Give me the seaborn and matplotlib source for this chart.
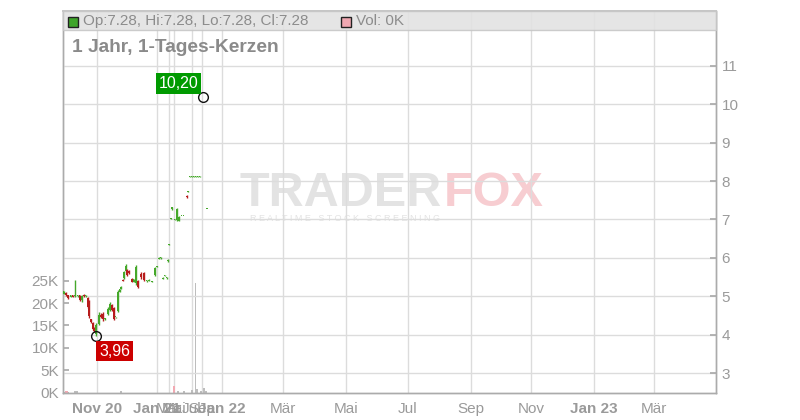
import numpy as np
import pandas as pd
import seaborn as sns
import matplotlib.pyplot as plt
from matplotlib.patches import Rectangle

# chart slots: roughly one slot per calendar day, the 2021 stretch is squeezed
slot = [0.5, 3, 5, 7.5, 9.5, 12, 14.5, 16.5, 18.5, 20.5, 22.5, 24.5, 26, 28, 29.5, 31,
        33, 35.5, 37.5, 40, 42, 44.5, 46.5, 48.5, 51, 52.5, 54.5, 56.5, 58, 59.5, 61,
        62.5, 64, 66, 68.5, 70.5, 73, 75, 77.5, 80.5, 83.5, 85.5, 89, 92, 94, 95.5,
        97.5, 100, 101.5, 103.5, 105, 106, 108, 109, 111.5, 114, 116, 118.5, 120.5,
        124, 125, 126.5, 128.5, 130.5, 132.5, 134.5, 136.5, 140, 144]
opens = [5.06, 5.09, 5.03, 4.98, 5.02, 5.00, 5.01, 5.02, 4.90, 5.04, 5.00, 4.96, 4.85, 4.40, 4.30, 4.17,
         4.02, 4.28, 4.52, 4.55, 4.40, 4.55, 4.65, 4.78, 4.69, 4.45, 4.62, 5.12, 5.20, 5.43, 5.48,
         5.66, 5.68, 5.66, 5.46, 5.38, 5.35, 5.40, 5.58, 5.60, 5.40, 5.40, 5.38, 5.56, 5.77, 5.98,
         5.99, 5.46, 5.54, 5.47, 5.92, 6.34, 7.02, 7.27, 6.99, 6.99, 6.96, 7.09, 7.09,
         7.62, 7.72, 8.12, 8.12, 8.12, 8.12, 8.12, 8.12, 10.18, 7.28]
highs = [5.14, 5.10, 5.04, 5.03, 5.03, 5.42, 5.03, 5.03, 5.03, 5.06, 5.02, 4.98, 4.90, 4.42, 4.33, 4.20,
         4.30, 4.59, 4.56, 4.58, 4.44, 4.72, 4.85, 4.80, 4.72, 4.47, 5.16, 5.19, 5.27, 5.44, 5.66,
         5.84, 5.72, 5.68, 5.48, 5.46, 5.81, 5.42, 5.62, 5.63, 5.43, 5.44, 5.41, 5.76, 5.80, 6.01,
         6.01, 5.49, 5.56, 5.49, 5.96, 6.36, 7.05, 7.33, 7.00, 7.30, 7.08, 7.10, 7.10,
         7.63, 7.74, 8.14, 8.14, 8.14, 8.14, 8.14, 8.14, 10.20, 7.28]
lows = [5.05, 5.01, 4.93, 4.97, 4.97, 4.99, 4.99, 4.88, 4.86, 4.98, 4.98, 4.69, 4.43, 4.30, 4.12, 4.07,
        3.96, 4.25, 4.44, 4.36, 4.38, 4.52, 4.62, 4.62, 4.38, 4.43, 4.58, 5.10, 5.18, 5.40, 5.46,
        5.64, 5.54, 5.58, 5.36, 5.36, 5.30, 5.22, 5.46, 5.40, 5.38, 5.39, 5.36, 5.54, 5.76, 5.97,
        5.98, 5.45, 5.52, 5.46, 5.90, 6.33, 7.01, 7.26, 6.98, 6.97, 6.95, 7.08, 7.08,
        7.57, 7.71, 8.12, 8.12, 8.12, 8.12, 8.12, 8.12, 10.18, 7.28]
closes = [5.13, 5.03, 4.96, 5.02, 4.98, 5.03, 5.02, 4.90, 5.01, 5.00, 5.01, 4.72, 4.48, 4.33, 4.15, 4.09,
          4.25, 4.52, 4.46, 4.40, 4.42, 4.68, 4.80, 4.64, 4.40, 4.46, 5.12, 5.18, 5.25, 5.41, 5.63,
          5.80, 5.56, 5.60, 5.38, 5.44, 5.76, 5.25, 5.50, 5.42, 5.42, 5.43, 5.40, 5.74, 5.79, 6.00,
          6.00, 5.48, 5.55, 5.48, 5.94, 6.35, 7.03, 7.32, 7.00, 7.28, 7.07, 7.10, 7.10,
          7.58, 7.73, 8.13, 8.13, 8.13, 8.13, 8.13, 8.13, 10.19, 7.28]

vol_slot = [3, 4.5, 12, 14, 58, 111, 115, 121, 129, 132.5, 134, 138, 141, 143]
vol_k = [0.3, 0.3, 0.3, 0.3, 0.4, 1.4, 0.3, 0.3, 0.6, 24.5, 0.8, 0.4, 1.0, 0.3]
vol_kind = ["down", "down", "flat", "flat", "flat", "down", "flat", "flat", "flat", "flat",
            "flat", "flat", "flat", "flat"]

tick_slot = [34, 94, 106, 111, 129, 139, 159, 220, 283, 345, 408, 468, 531, 591]
tick_label = ["Nov 20", "Jan 21", "Mär", "Mai", "Jul", "Sep", "Jan 22", "Mär", "Mai", "Jul",
              "Sep", "Nov", "Jan 23", "Mär"]
bold_labels = ["Nov 20", "Jan 21", "Jan 22", "Jan 23"]
price_ticks = [3, 4, 5, 6, 7, 8, 9, 10, 11]
vol_ticks = [0, 5, 10, 15, 20, 25]
vol_tick_label = ["0K", "5K", "10K", "15K", "20K", "25K"]

up_color = "#45a82a"
down_color = "#b71c1c"
vol_colors = {"down": "#f2a9b2", "up": "#a8d99a", "flat": "#bdbdbd"}
grid_color = "#dcdcdc"
axis_color = "#ababab"
text_color = "#9a9a9a"

sns.set_theme(style="white")
plt.rcParams["font.family"] = ["Liberation Sans", "DejaVu Sans"]

df = pd.DataFrame({"slot": slot, "open": opens, "high": highs, "low": lows, "close": closes})
df["color"] = np.where(df["close"] >= df["open"], up_color, down_color)

fig = plt.figure(figsize=(8, 4.2), dpi=100)

# watermark sits under the (transparent) plot area
fig.text(240 / 800, 1 - 194 / 420, "TRADER", fontsize=35, fontweight="bold", color="#e3e3e3",
         va="center", zorder=-2)
fig.text(444 / 800, 1 - 194 / 420, "FOX", fontsize=35, fontweight="bold", color="#f7cdd1",
         va="center", zorder=-2)
fig.text(250 / 800, 1 - 218 / 420, " ".join("REALTIME STOCK SCREENING"), fontsize=6.5,
         color="#e3e3e3", va="center", zorder=-2)

axv = fig.add_axes([63 / 800, 1 - 392.5 / 420, 653 / 800, 381.5 / 420])
axv.patch.set_facecolor("none")
ax = axv.twinx()

# volume (left axis)
axv.bar(vol_slot, vol_k, width=1.3, color=[vol_colors[k] for k in vol_kind], lw=0, zorder=2)
axv.set_xlim(0, 653)
axv.set_ylim(0, 85.3)
axv.set_yticks(vol_ticks)
axv.set_yticklabels(vol_tick_label)
axv.set_xticks(tick_slot)
axv.set_xticklabels(tick_label)
for lbl in axv.get_xticklabels():
    if lbl.get_text() in bold_labels:
        lbl.set_fontweight("bold")
        lbl.set_color("#8a8a8a")
axv.xaxis.grid(True, color=grid_color, lw=1, zorder=0)
axv.yaxis.grid(False)
axv.tick_params(axis="y", direction="in", length=4, color=axis_color, labelcolor=text_color,
                labelsize=11, pad=3)
axv.tick_params(axis="x", direction="out", length=3, color=axis_color, labelcolor=text_color,
                labelsize=11, pad=4)

# candles (right axis)
ax.vlines(df["slot"], df["low"], df["high"], colors=df["color"], lw=1, zorder=3)
body = np.maximum((df["close"] - df["open"]).abs(), 0.025)
ax.bar(df["slot"], body, bottom=np.minimum(df["open"], df["close"]), width=1.6,
       color=df["color"], lw=0, zorder=3)
ax.set_ylim(2.492, 12.433)
ax.set_yticks(price_ticks)
ax.yaxis.grid(True, color=grid_color, lw=1, zorder=0)
ax.tick_params(axis="y", direction="in", length=4, color=axis_color, labelcolor=text_color,
               labelsize=11, pad=4)

for a in (ax, axv):
    for side in ("left", "right", "bottom"):
        a.spines[side].set_color(axis_color)
        a.spines[side].set_linewidth(1)
    a.spines["top"].set_color("#c6c6c6")

# high / low markers
hi = int(np.argmax(df["high"]))
lo = int(np.argmin(df["low"]))
ax.plot(df["slot"][hi], df["high"][hi], "o", ms=7, mfc="none", mec="#111111", mew=1, zorder=5)
ax.plot(df["slot"][lo], df["low"][lo], "o", ms=7, mfc="none", mec="#111111", mew=1, zorder=5)
ax.annotate(f"{df['high'][hi]:.2f}".replace(".", ","), (df["slot"][hi], df["high"][hi]),
            xytext=(-5, 13), textcoords="offset pixels", ha="right", va="center",
            color="white", fontsize=11.5, zorder=6,
            bbox=dict(boxstyle="square,pad=0.17", fc="#009a00", ec="none"))
ax.annotate(f"{df['low'][lo]:.2f}".replace(".", ","), (df["slot"][lo], df["low"][lo]),
            xytext=(3, -15), textcoords="offset pixels", ha="left", va="center",
            color="white", fontsize=11.5, zorder=6,
            bbox=dict(boxstyle="square,pad=0.17", fc="#cc0000", ec="none"))

# header band with last candle values
ax.add_patch(Rectangle((0, 0.950), 1, 0.05, transform=ax.transAxes, fc="#e2e2e2",
                       ec="#c6c6c6", lw=1, alpha=0.88, zorder=7, clip_on=False))
last = df.iloc[-1]
fig.add_artist(Rectangle((68 / 800, 1 - 27 / 420), 10 / 800, 10 / 420, transform=fig.transFigure,
                         fc="#3fa52a", ec="#222222", lw=1, zorder=8))
fig.text(83 / 800, 1 - 21 / 420,
         f"Op:{last['open']:.2f}, Hi:{last['high']:.2f}, Lo:{last['low']:.2f}, Cl:{last['close']:.2f}",
         fontsize=11, color="#8c8c8c", va="center", zorder=9)
fig.add_artist(Rectangle((341 / 800, 1 - 27 / 420), 10 / 800, 10 / 420, transform=fig.transFigure,
                         fc="#f0a8b2", ec="#222222", lw=1, zorder=8))
fig.text(356 / 800, 1 - 21 / 420, "Vol: 0K", fontsize=11, color="#8c8c8c", va="center", zorder=9)
fig.text(72 / 800, 1 - 47 / 420, "1 Jahr, 1-Tages-Kerzen", fontsize=13.8, fontweight="bold",
         color="#8a8a8a", va="center")

fig.savefig("out.png", dpi=100, facecolor="white")
